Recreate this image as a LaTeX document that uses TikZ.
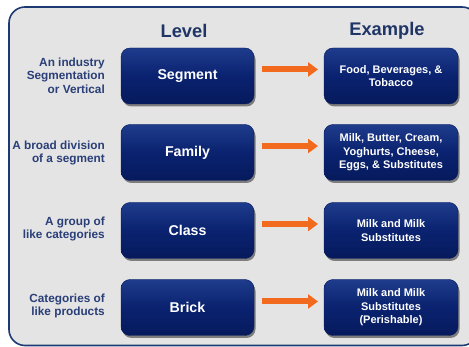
\documentclass[tikz,border=0pt]{standalone}
\usepackage{fontspec}
\setmainfont{Liberation Sans}
\usetikzlibrary{shadows,arrows.meta}
\definecolor{framebg}{HTML}{E4E4E4}
\definecolor{frameline}{HTML}{1D3A72}
\definecolor{navy}{HTML}{0A2270}
\definecolor{navytop}{HTML}{1E3C8C}
\definecolor{navybot}{HTML}{061A5C}
\definecolor{hdr}{HTML}{1F3566}
\definecolor{desc}{HTML}{2A3F78}
\definecolor{arr}{HTML}{F26A1E}
\tikzset{
  lvlbox/.style={rounded corners=9pt, minimum width=133pt, minimum height=56pt,
    top color=navytop, bottom color=navybot, middle color=navy,
    draw=navybot, line width=0.4pt,
    drop shadow={shadow xshift=1.5pt, shadow yshift=-2.5pt, opacity=0.45, fill=black},
    text=white, font=\bfseries\fontsize{14.2}{15}\selectfont, align=center},
  exbox/.style={lvlbox, minimum width=134pt, font=\bfseries\fontsize{11}{13.5}\selectfont},
  hdrtext/.style={text=hdr, font=\bfseries\fontsize{18.3}{20}\selectfont},
  desctext/.style={text=desc, font=\bfseries\fontsize{11.8}{13.5}\selectfont, align=right, anchor=east, inner sep=0pt},
  orangearrow/.style={draw=arr, line width=6pt, -{Triangle[length=10pt,width=14pt]},
    shorten >=0pt, shorten <=0pt},
}
\begin{document}
\begin{tikzpicture}[x=1pt,y=-1pt]
\useasboundingbox (0,0) rectangle (469,347);
\fill[white] (0,0) rectangle (469,347);
\draw[frameline, line width=1.6pt, fill=framebg, rounded corners=16pt]
  (9,7) rectangle (478,345.5);
\node[hdrtext] (hlevel) at (184,31) {Level};
\node[hdrtext] (hex) at (387,31) {Example};
% level boxes
\node[lvlbox] (seg) at (187.5,76) {Segment};
\node[lvlbox] (fam) at (187.5,152.5) {Family};
\node[lvlbox] (cls) at (187.5,230.5) {Class};
\node[lvlbox] (brk) at (187.5,307.5) {Brick};
% example boxes
\node[exbox] (eseg) at (391,76) {Food, Beverages, \&\\Tobacco};
\node[exbox] (efam) at (391,152.5) {Milk, Butter, Cream,\\Yoghurts, Cheese,\\Eggs, \& Substitutes};
\node[exbox] (ecls) at (391,230.5) {Milk and Milk\\Substitutes};
\node[exbox] (ebrk) at (391,307.5) {Milk and Milk\\Substitutes\\(Perishable)};
% descriptions
\node[desctext] (dseg) at (105,75.5) {An industry\\Segmentation\\or Vertical};
\node[desctext] (dfam) at (105,153) {A broad division\\of a segment};
\node[desctext] (dcls) at (105,229) {A group of\\like categories};
\node[desctext] (dbrk) at (105,306) {Categories of\\like products};
% arrows
\coordinate (a1s) at (262,69.5); \coordinate (a1e) at (318,69.5);
\coordinate (a2s) at (262,146); \coordinate (a2e) at (318,146);
\coordinate (a3s) at (262,224); \coordinate (a3e) at (318,224);
\coordinate (a4s) at (262,301.5); \coordinate (a4e) at (318,301.5);
\draw[orangearrow] (a1s) -- (a1e);
\draw[orangearrow] (a2s) -- (a2e);
\draw[orangearrow] (a3s) -- (a3e);
\draw[orangearrow] (a4s) -- (a4e);
\end{tikzpicture}
\end{document}
